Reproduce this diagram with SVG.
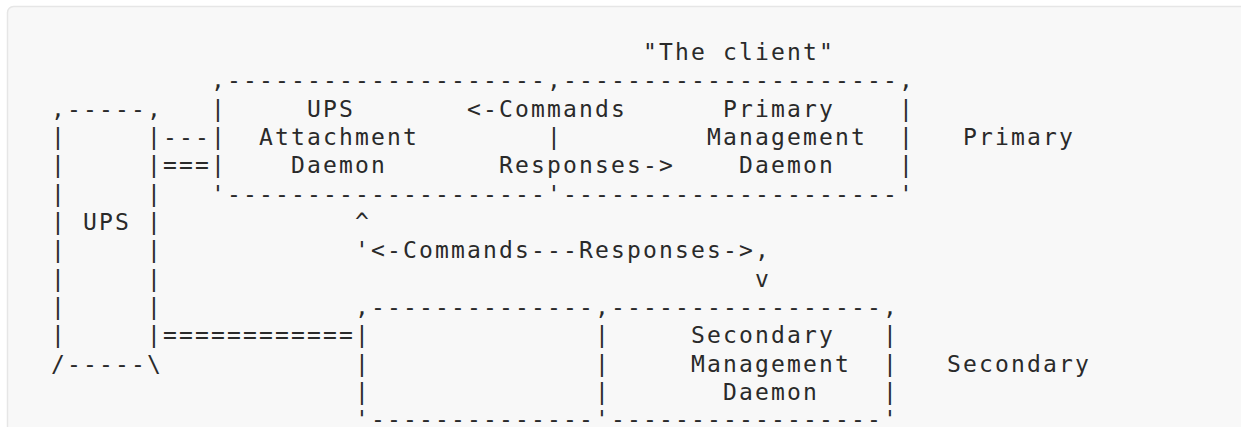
<svg xmlns="http://www.w3.org/2000/svg" width="1241" height="427" viewBox="0 0 1241 427">
<style>
  .bg { fill: #f8f8f8; stroke: #e6e6e6; stroke-width: 1.5; }
  text { font-family: "DejaVu Sans Mono", "Liberation Mono", monospace; font-size: 23px; letter-spacing: 2.15px; fill: #2a2a2a; white-space: pre; }
</style>
<rect class="bg" x="7.5" y="6.5" width="1260" height="460" rx="6" ry="6"/>

<g id="client-label">
  <text x="643" y="60">"The client"</text>
</g>

<g id="ups">
  <text x="51" y="116.7">,-----,</text>
  <text x="51" y="145">|</text><text x="147" y="145">|</text>
  <text x="51" y="173.3">|</text><text x="147" y="173.3">|</text>
  <text x="51" y="201.7">|</text><text x="147" y="201.7">|</text>
  <text x="51" y="230">| UPS |</text>
  <text x="51" y="258.3">|</text><text x="147" y="258.3">|</text>
  <text x="51" y="286.7">|</text><text x="147" y="286.7">|</text>
  <text x="51" y="315">|</text><text x="147" y="315">|</text>
  <text x="51" y="343.3">|</text><text x="147" y="343.3">|</text>
  <text x="51" y="371.7">/-----\</text>
</g>

<g id="client-box">
  <text x="211" y="88.3">,--------------------,---------------------,</text>
  <text x="211" y="201.7">'--------------------'---------------------'</text>
</g>

<g id="attachment-daemon">
  <text x="211" y="116.7">|</text>
  <text x="211" y="145">|</text>
  <text x="211" y="173.3">|</text>
  <text x="307" y="116.7">UPS</text>
  <text x="259" y="145">Attachment</text>
  <text x="291" y="173.3">Daemon</text>
</g>

<g id="primary-daemon">
  <text x="723" y="116.7">Primary</text>
  <text x="707" y="145">Management</text>
  <text x="739" y="173.3">Daemon</text>
  <text x="899" y="116.7">|</text>
  <text x="899" y="145">|</text>
  <text x="899" y="173.3">|</text>
</g>

<g id="primary-label">
  <text x="963" y="145">Primary</text>
</g>

<g id="secondary-box">
  <text x="355" y="315">,--------------,-----------------,</text>
  <text x="355" y="343.3">|</text>
  <text x="355" y="371.7">|</text>
  <text x="355" y="400">|</text>
  <text x="355" y="427">'--------------'-----------------'</text>
</g>

<g id="secondary-daemon">
  <text x="595" y="343.3">|</text>
  <text x="595" y="371.7">|</text>
  <text x="595" y="400">|</text>
  <text x="691" y="343.3">Secondary</text>
  <text x="691" y="371.7">Management</text>
  <text x="723" y="400">Daemon</text>
  <text x="883" y="343.3">|</text>
  <text x="883" y="371.7">|</text>
  <text x="883" y="400">|</text>
</g>

<g id="secondary-label">
  <text x="947" y="371.7">Secondary</text>
</g>

<g id="connectors">
  <text x="163" y="145">---</text>
  <text x="163" y="173.3">===</text>
  <text x="163" y="343.3">============</text>
  <text x="467" y="116.7">&lt;-Commands</text>
  <text x="547" y="145">|</text>
  <text x="499" y="173.3">Responses-&gt;</text>
  <text x="355" y="230">^</text>
  <text x="355" y="258.3">'&lt;-Commands---Responses-&gt;,</text>
  <text x="755" y="286.7">v</text>
</g>
</svg>
